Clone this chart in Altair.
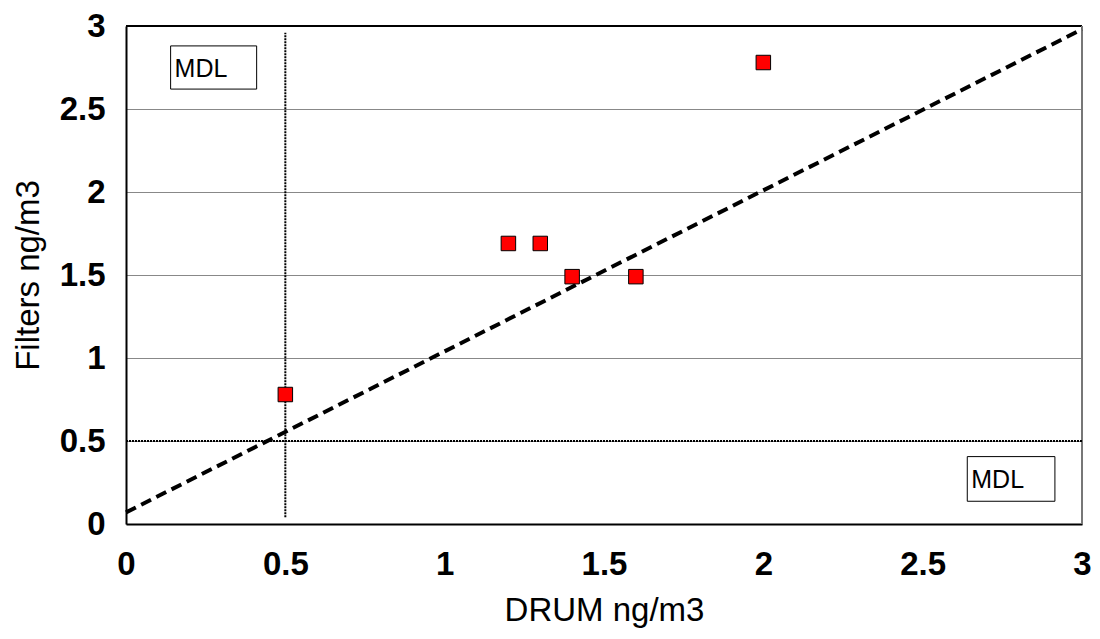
import altair as alt
import pandas as pd

# Data
drum = [0.5, 1.2, 1.3, 1.4, 1.6, 2.0]
filters = [0.78, 1.69, 1.69, 1.49, 1.49, 2.78]
fit_x = [0.0, 3.0]
fit_y = [0.07, 2.98]
mdl = 0.5
ticks = [0, 0.5, 1, 1.5, 2, 2.5, 3]
labels_text = ["MDL", "MDL"]
box_x1 = [0.14, 2.64]
box_x2 = [0.41, 2.915]
box_y1 = [2.62, 0.137]
box_y2 = [2.88, 0.406]

FONT = "Liberation Sans"

pts = pd.DataFrame({"x": drum, "y": filters})
fit = pd.DataFrame({"x": fit_x, "y": fit_y})
boxes = pd.DataFrame({"x1": box_x1, "x2": box_x2, "y1": box_y1, "y2": box_y2, "t": labels_text})

xs = alt.Scale(domain=[0, 3], nice=False)
ys = alt.Scale(domain=[0, 3], nice=False)

xaxis = alt.Axis(values=ticks, format="~g", title="DRUM ng/m3", grid=False, ticks=False,
                 labelFont=FONT, labelFontSize=33, labelFontWeight="bold", labelColor="black",
                 labelPadding=24, titleFont=FONT, titleFontSize=33, titleFontWeight="normal",
                 titleColor="black", titlePadding=13, domainColor="black", domainWidth=2,
                 labelFlush=False, labelOverlap=False)
yaxis = alt.Axis(values=ticks, format="~g", title="Filters ng/m3", grid=True, gridColor="#888888",
                 gridWidth=1, ticks=False, labelFont=FONT, labelFontSize=33, labelFontWeight="bold",
                 labelColor="black", labelPadding=21, titleFont=FONT, titleFontSize=33,
                 titleFontWeight="normal", titleColor="black", titlePadding=14,
                 domainColor="black", domainWidth=2, labelFlush=False, labelOverlap=False)

base = alt.Chart(pts).mark_point(opacity=0).encode(
    x=alt.X("x:Q", scale=xs, axis=xaxis),
    y=alt.Y("y:Q", scale=ys, axis=yaxis),
)

top_rule = alt.Chart(pd.DataFrame({"y": [3]})).mark_rule(color="black", strokeWidth=2).encode(
    y=alt.Y("y:Q", scale=ys))
right_rule = alt.Chart(pd.DataFrame({"x": [3]})).mark_rule(color="#777777", strokeWidth=2).encode(
    x=alt.X("x:Q", scale=xs))

hline = alt.Chart(pd.DataFrame({"y": [mdl]})).mark_rule(color="black", strokeWidth=2, strokeDash=[2, 1]).encode(
    y=alt.Y("y:Q", scale=ys))
vline = alt.Chart(pd.DataFrame({"x": [mdl], "y1": [0.04], "y2": [2.96]})).mark_rule(
    color="black", strokeWidth=2, strokeDash=[2, 1]).encode(
    x=alt.X("x:Q", scale=xs), y=alt.Y("y1:Q", scale=ys), y2="y2:Q")

line = alt.Chart(fit).mark_line(color="black", strokeWidth=4, strokeDash=[11, 6]).encode(
    x=alt.X("x:Q", scale=xs), y=alt.Y("y:Q", scale=ys))

squares = alt.Chart(pts).mark_square(size=210, color="#ff0000", fill="#ff0000", stroke="black",
                                     strokeWidth=1, opacity=1, filled=True).encode(
    x=alt.X("x:Q", scale=xs), y=alt.Y("y:Q", scale=ys))

rects = alt.Chart(boxes).mark_rect(fill="white", stroke="black", strokeWidth=1).encode(
    x=alt.X("x1:Q", scale=xs), x2="x2:Q", y=alt.Y("y1:Q", scale=ys), y2="y2:Q")
texts = alt.Chart(boxes).mark_text(font=FONT, fontSize=25, align="left", baseline="middle",
                                   dx=4, dy=1, color="black").encode(
    x=alt.X("x1:Q", scale=xs), y=alt.Y("ym:Q", scale=ys), text="t:N"
).transform_calculate(ym="(datum.y1 + datum.y2) / 2")

chart = alt.layer(base, top_rule, right_rule, hline, vline, line, squares, rects, texts).properties(
    width=956, height=498,
    autosize=alt.AutoSizeParams(type="none"),
    padding={"left": 118, "top": 18, "right": 10, "bottom": 107}
).configure_view(stroke=None).configure(background="white")

chart.save("out.html", embed_options={"renderer": "svg", "actions": False})
